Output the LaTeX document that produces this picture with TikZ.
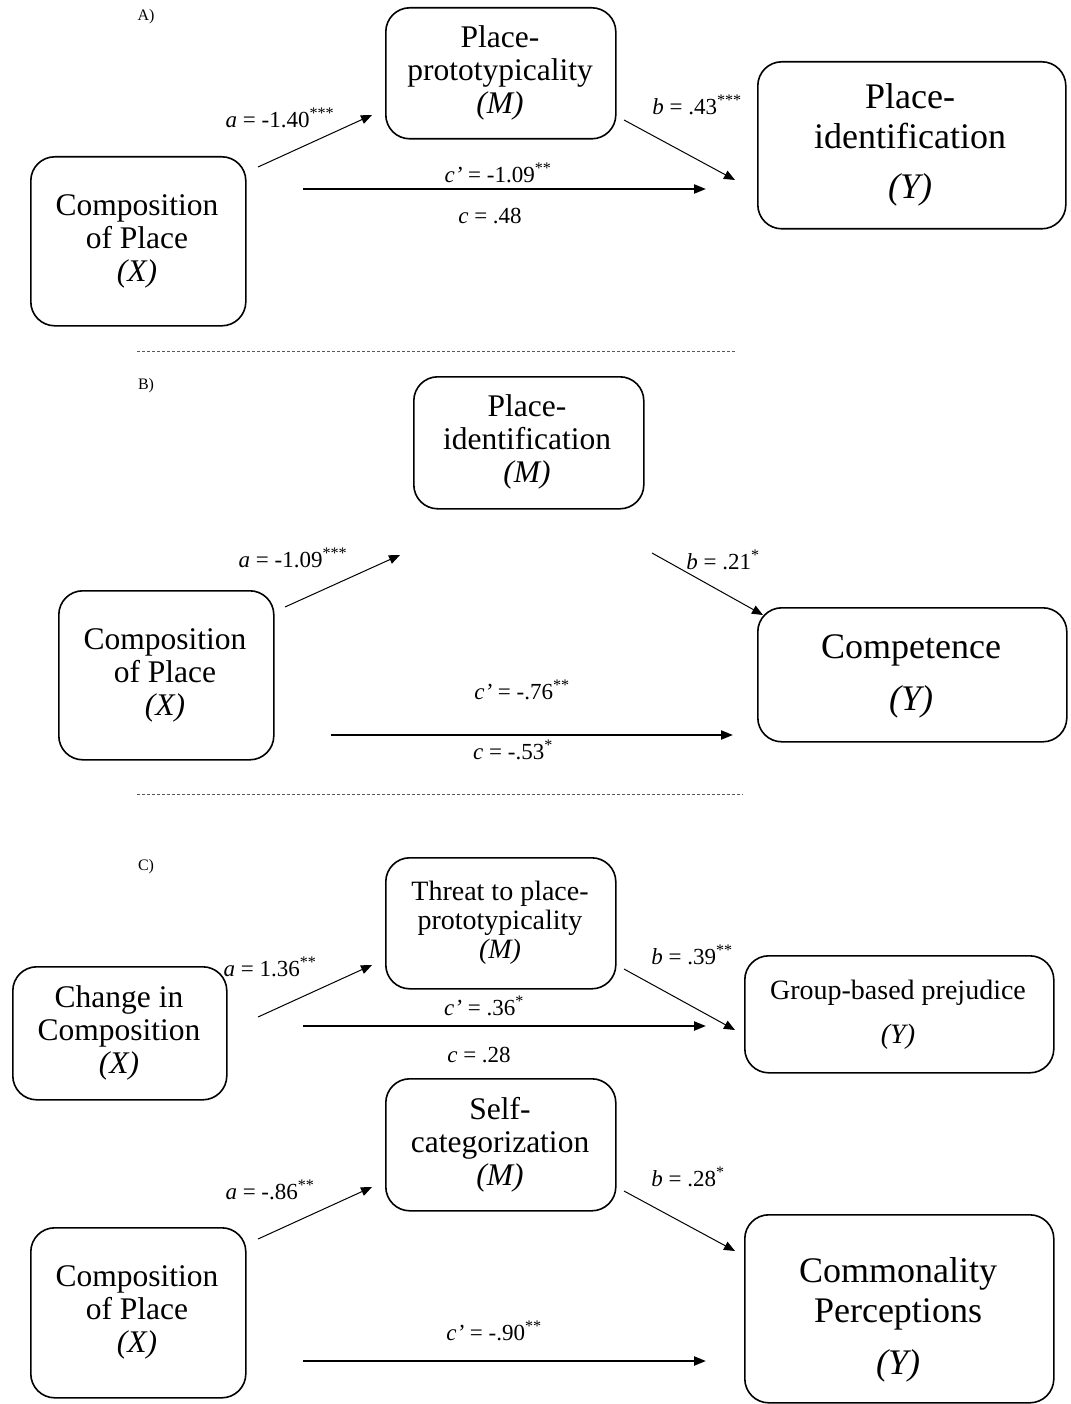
\documentclass[tikz,border=0pt]{standalone}
\usepackage{fontspec}
\setmainfont{Liberation Serif}
\usetikzlibrary{arrows.meta}
\tikzset{
  var/.style={draw, line width=1.6pt, rounded corners=24pt, align=center, inner sep=0pt, anchor=north west},
  boxtxt/.style={font=\fontsize{31.5}{33}\selectfont},
  bigtxt/.style={font=\fontsize{36}{40}\selectfont},
  coef/.style={font=\fontsize{23}{26}\selectfont, inner sep=1pt},
  panel/.style={font=\fontsize{16}{19}\selectfont},
  path a/.style={line width=1pt, -{Triangle[length=11pt,width=9pt]}},
  path c/.style={line width=2.2pt, -{Triangle[length=12pt,width=9pt]}},
  sep/.style={line width=0.7pt, dash pattern=on 3pt off 2pt, gray!70!black}
}
\newcommand{\sig}[1]{\textsuperscript{#1}}
\begin{document}
\begin{tikzpicture}[x=1pt,y=-1pt]
\useasboundingbox (0,0) rectangle (1070,1404);

% ---------------- Panel A ----------------
\node[panel] (labA) at (146,17) {A)};
\node[var, minimum width=215pt, minimum height=169pt] (xA) at (30,156) {};
\node[boxtxt, align=center] (xAt) at (137,241) {Composition\\of Place\\\textit{(X)}};
\node[var, minimum width=230pt, minimum height=131pt] (mA) at (385,7) {};
\node[boxtxt, align=center] (mAt) at (500,73) {Place-\\prototypicality\\\textit{(M)}};
\node[var, minimum width=308pt, minimum height=167pt] (yA) at (757,61) {};
\node[bigtxt, align=center] (yAt) at (910,145) {Place-\\identification\\[10pt]\textit{(Y)}};

\coordinate (aA1) at (258,167); \coordinate (aA2) at (372,115);
\coordinate (bA1) at (624,120); \coordinate (bA2) at (735,180);
\coordinate (cA1) at (303,189); \coordinate (cA2) at (706,189);
\draw[path a] (aA1) -- (aA2);
\draw[path a] (bA1) -- (bA2);
\draw[path c] (cA1) -- (cA2);
\node[coef] (laA) at (280,118) {\textit{a} = -1.40\sig{***}};
\node[coef] (lbA) at (697,105) {\textit{b} = .43\sig{***}};
\node[coef] (lcpA) at (498,173) {\textit{c’} = -1.09\sig{**}};
\node[coef] (lcA) at (490,216) {\textit{c} = .48};

\coordinate (sepA1) at (137,351); \coordinate (sepA2) at (736,351);
\draw[sep] (sepA1) -- (sepA2);

% ---------------- Panel B ----------------
\node[panel] (labB) at (146,386) {B)};
\node[var, minimum width=230pt, minimum height=132pt] (mB) at (413,376) {};
\node[boxtxt, align=center] (mBt) at (527,442) {Place-\\identification\\\textit{(M)}};
\node[var, minimum width=215pt, minimum height=169pt] (xB) at (58,590) {};
\node[boxtxt, align=center] (xBt) at (165,675) {Composition\\of Place\\\textit{(X)}};
\node[var, minimum width=309pt, minimum height=134pt] (yB) at (757,607) {};
\node[bigtxt, align=center] (yBt) at (911,676) {Competence\\[12pt]\textit{(Y)}};

\coordinate (aB1) at (285,607); \coordinate (aB2) at (400,555);
\coordinate (bB1) at (652,553); \coordinate (bB2) at (763,615);
\coordinate (cB1) at (331,735); \coordinate (cB2) at (733,735);
\draw[path a] (aB1) -- (aB2);
\draw[path a] (bB1) -- (bB2);
\draw[path c] (cB1) -- (cB2);
\node[coef] (laB) at (293,558) {\textit{a} = -1.09\sig{***}};
\node[coef] (lbB) at (723,560) {\textit{b} = .21\sig{*}};
\node[coef] (lcpB) at (522,690) {\textit{c’} = -.76\sig{**}};
\node[coef] (lcB) at (513,750) {\textit{c} = -.53\sig{*}};

\coordinate (sepB1) at (137,794); \coordinate (sepB2) at (743,794);
\draw[sep] (sepB1) -- (sepB2);

% ---------------- Panel C ----------------
\node[panel] (labC) at (146,867) {C)};

% first model
\node[var, minimum width=230pt, minimum height=131pt] (mC1) at (385,857) {};
\node[font=\fontsize{28}{29}\selectfont, align=center] (mC1t) at (500,923) {Threat to place-\\prototypicality\\\textit{(M)}};
\node[var, minimum width=214pt, minimum height=133pt] (xC1) at (12,966) {};
\node[boxtxt, align=center] (xC1t) at (119,1033) {Change in\\Composition\\\textit{(X)}};
\node[var, minimum width=309pt, minimum height=117pt] (yC1) at (744,955) {};
\node[font=\fontsize{28}{30}\selectfont, align=center] (yC1t) at (898,1015) {Group-based prejudice\\[14pt]\textit{(Y)}};

\coordinate (aC1) at (258,1017); \coordinate (aC2) at (372,965);
\coordinate (bC1) at (624,969); \coordinate (bC2) at (735,1030);
\coordinate (cC1) at (303,1026); \coordinate (cC2) at (706,1026);
\draw[path a] (aC1) -- (aC2);
\draw[path a] (bC1) -- (bC2);
\draw[path c] (cC1) -- (cC2);
\node[coef] (laC) at (270,967) {\textit{a} = 1.36\sig{**}};
\node[coef] (lbC) at (692,955) {\textit{b} = .39\sig{**}};
\node[coef] (lcpC) at (484,1006) {\textit{c’} = .36\sig{*}};
\node[coef] (lcC) at (479,1055) {\textit{c} = .28};

% second model
\node[var, minimum width=230pt, minimum height=132pt] (mC2) at (385,1078) {};
\node[boxtxt, align=center] (mC2t) at (500,1145) {Self-\\categorization\\\textit{(M)}};
\node[var, minimum width=215pt, minimum height=170pt] (xC2) at (30,1227) {};
\node[boxtxt, align=center] (xC2t) at (137,1312) {Composition\\of Place\\\textit{(X)}};
\node[var, minimum width=309pt, minimum height=188pt] (yC2) at (744,1214) {};
\node[bigtxt, align=center] (yC2t) at (898,1320) {Commonality\\Perceptions\\[12pt]\textit{(Y)}};

\coordinate (aD1) at (258,1239); \coordinate (aD2) at (372,1187);
\coordinate (bD1) at (624,1191); \coordinate (bD2) at (735,1251);
\coordinate (cD1) at (303,1361); \coordinate (cD2) at (706,1361);
\draw[path a] (aD1) -- (aD2);
\draw[path a] (bD1) -- (bD2);
\draw[path c] (cD1) -- (cD2);
\node[coef] (laD) at (270,1190) {\textit{a} = -.86\sig{**}};
\node[coef] (lbD) at (688,1177) {\textit{b} = .28\sig{*}};
\node[coef] (lcpD) at (494,1331) {\textit{c’} = -.90\sig{**}};
\end{tikzpicture}
\end{document}
